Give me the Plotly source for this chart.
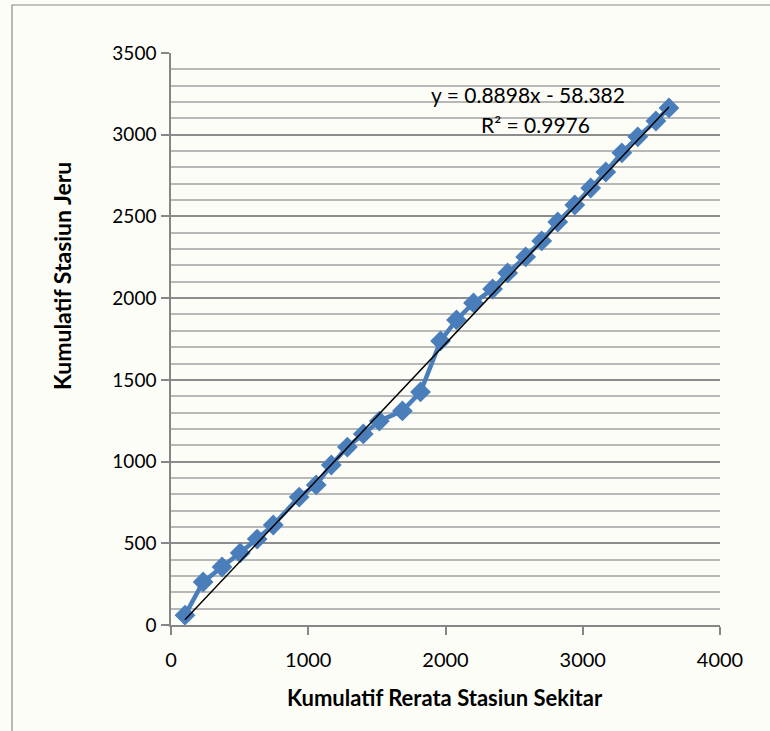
import numpy as np
import plotly.graph_objects as go

# Data
kumulatif_rerata = [102, 234, 372, 504, 628, 745, 934, 1058, 1168, 1285, 1401, 1518,
                    1686, 1818, 1964, 2080, 2204, 2343, 2453, 2584, 2701, 2818, 2942,
                    3058, 3168, 3285, 3401, 3533, 3628]
kumulatif_jeru = [60, 263, 355, 441, 526, 612, 783, 857, 979, 1089, 1169, 1248,
                  1310, 1426, 1738, 1867, 1971, 2056, 2154, 2252, 2350, 2466, 2570,
                  2674, 2772, 2889, 2987, 3084, 3164]
trend_slope = 0.8898
trend_intercept = -58.382
r_squared = 0.9976
x_ticks = [0, 1000, 2000, 3000, 4000]
y_ticks = [0, 500, 1000, 1500, 2000, 2500, 3000, 3500]

W, H = 770, 731
L, R, T, B = 171, 50, 53, 106
pw, ph = W - L - R, H - T - B

def px(x):
    return (x - L) / pw

def py(y):
    return (H - B - y) / ph

FONT = "Lato"
BLUE = "#4a7ebb"

trend_x = np.array([min(kumulatif_rerata), max(kumulatif_rerata)])
trend_y = trend_slope * trend_x + trend_intercept

fig = go.Figure()
fig.add_trace(go.Scatter(
    x=kumulatif_rerata, y=kumulatif_jeru, mode="lines+markers",
    line=dict(color=BLUE, width=4.5),
    marker=dict(symbol="diamond", size=16, color=BLUE),
    showlegend=False, hoverinfo="x+y",
))
fig.add_trace(go.Scatter(
    x=trend_x, y=trend_y, mode="lines",
    line=dict(color="black", width=1.5),
    showlegend=False, hoverinfo="skip",
))

fig.update_layout(
    width=W, height=H,
    margin=dict(l=L, r=R, t=T, b=B),
    paper_bgcolor="#fdfdf8", plot_bgcolor="#fdfdf8",
    font=dict(family=FONT, size=20, color="black"),
    xaxis=dict(
        range=[0, 4000], tickvals=x_ticks, showgrid=False, zeroline=False,
        showline=True, linecolor="#868686", linewidth=1.5,
        ticks="outside", ticklen=8, tickcolor="#868686", tickwidth=1.5,
        tickfont=dict(family=FONT, size=20), ticklabelstandoff=8, fixedrange=True,
    ),
    yaxis=dict(
        range=[0, 3500], tickvals=y_ticks, zeroline=False,
        showgrid=True, gridcolor="#8c8c8c", gridwidth=1.5,
        showline=True, linecolor="#868686", linewidth=1.5,
        ticks="outside", ticklen=8, tickcolor="#868686", tickwidth=1.5,
        tickfont=dict(family=FONT, size=19), ticklabelstandoff=1,
        minor=dict(dtick=100, showgrid=True, gridcolor="#b8b8b8", gridwidth=1.5),
        fixedrange=True,
    ),
    shapes=[
        dict(type="rect", xref="paper", yref="paper",
             x0=px(12), x1=px(780), y0=py(5), y1=py(745),
             line=dict(color="#8a8a8a", width=1.2), layer="below"),
    ],
    annotations=[
        dict(text=f"y = {trend_slope}x - {abs(trend_intercept)}", xref="paper", yref="paper",
             x=px(528), y=py(94), showarrow=False, xanchor="center", yanchor="middle",
             font=dict(family=FONT, size=21)),
        dict(text=f"R² = {r_squared}", xref="paper", yref="paper",
             x=px(535), y=py(125), showarrow=False, xanchor="center", yanchor="middle",
             font=dict(family=FONT, size=21)),
        dict(text="<b>Kumulatif Rerata Stasiun Sekitar</b>", xref="paper", yref="paper",
             x=px(445), y=py(697), showarrow=False, xanchor="center", yanchor="middle",
             font=dict(family=FONT, size=22)),
        dict(text="<b>Kumulatif Stasiun Jeru</b>", xref="paper", yref="paper",
             x=px(62), y=py(276), showarrow=False, xanchor="center", yanchor="middle",
             textangle=-90, font=dict(family=FONT, size=23)),
    ],
)

fig.write_html("out.html")
